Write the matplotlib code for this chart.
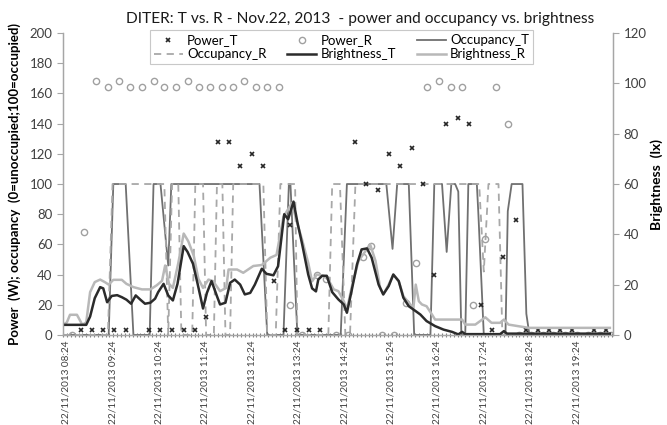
import matplotlib
matplotlib.use("Agg")
import matplotlib.pyplot as plt
from matplotlib.lines import Line2D
from matplotlib.ticker import FixedLocator, FuncFormatter, MultipleLocator

plt.rcParams['font.family'] = ['Lato', 'DejaVu Sans']

DAY = "22/11/2013"

# power draw (W), about every 15 min
power_t_time = ["08:43", "08:58", "09:12", "09:26", "09:42", "10:11", "10:25", "10:41", "10:56",
                "11:10", "11:25", "11:40", "11:54", "12:09", "12:24", "12:38", "12:53", "13:07",
                "13:13", "13:23", "13:38", "13:52", "14:37", "14:52", "15:07", "15:22", "15:36",
                "15:51", "16:06", "16:20", "16:35", "16:50", "17:05", "17:20", "17:34", "17:49",
                "18:05", "18:19", "18:34", "18:48", "19:03", "19:18", "19:47", "20:02"]
power_t = [3, 3, 3, 3, 3, 3, 3, 3, 3, 3, 12, 128, 128, 112, 120, 112, 36, 3, 73, 3, 3, 3,
           128, 100, 96, 120, 112, 124, 100, 40, 140, 144, 140, 19.5, 3, 51.6, 76,
           3, 3, 3, 3, 3, 3, 3]

power_r_time = ["08:32", "08:47", "09:03", "09:18", "09:33", "09:47", "10:02", "10:17", "10:31",
                "10:46", "11:01", "11:16", "11:30", "11:45", "12:00", "12:14", "12:29", "12:44",
                "12:59", "13:14", "13:29", "13:48", "14:00", "14:13", "14:28", "14:48", "14:58",
                "15:13", "15:28", "15:43", "15:56", "16:11", "16:26", "16:41", "16:56", "17:10",
                "17:25", "17:40", "17:55", "18:10", "18:25", "18:40", "18:54", "19:09", "19:24",
                "19:39", "19:54", "20:09"]
power_r = [0, 68, 168, 164, 168, 164, 164, 168, 164, 164, 168, 164, 164, 164, 164, 168, 164, 164,
           164, 19.5, 0, 40, 37, 0, 0, 51.6, 58.7, 0, 0, 21, 47.6, 164, 168, 164, 164, 19.5,
           63.5, 164, 140, 0, 0, 0, 0, 0, 0, 0, 0, 0]

# occupancy (0 = unoccupied, 100 = occupied)
occ_t_time = ["08:20", "09:19", "09:25", "09:41", "09:51", "10:12", "10:17", "10:26", "10:36",
              "10:40", "12:34", "12:44", "13:05", "13:12", "13:14", "13:23", "14:19", "14:27",
              "15:18", "15:26", "15:32", "15:47", "15:54", "16:15", "16:20", "16:30", "16:36",
              "16:42", "16:47", "16:51", "16:55", "17:00", "17:04", "17:15", "17:17", "17:24",
              "17:52", "17:55", "18:00", "18:14", "18:19", "18:23", "20:07"]
occ_t = [0, 0, 100, 100, 0, 0, 100, 100, 46, 100, 100, 0, 0, 100, 100, 0, 0, 100,
         100, 57, 100, 100, 0, 0, 100, 100, 55, 100, 100, 95, 0, 0, 100, 100, 80, 0,
         0, 82, 100, 100, 14, 0, 0]

occ_r_time = ["08:20", "09:18", "09:24", "10:31", "10:36", "10:41", "10:49", "10:53", "11:07",
              "11:11", "11:21", "11:25", "11:35", "11:39", "11:46", "11:50", "11:56", "12:00",
              "12:39", "12:44", "12:55", "13:01", "13:20", "13:23", "14:03", "14:08", "14:18",
              "14:25", "14:31", "14:38", "17:18", "17:24", "17:30", "17:43", "17:48", "20:07"]
occ_r = [0, 0, 100, 100, 0, 100, 100, 0, 0, 100, 100, 0, 0, 100, 100, 0, 0, 100,
         100, 0, 0, 100, 100, 0, 0, 100, 100, 0, 0, 100, 100, 42, 100, 100, 0, 0]

# brightness (lx)
bright_t_time = ["08:20", "08:50", "08:55", "09:01", "09:08", "09:12", "09:17", "09:23", "09:30",
                 "09:36", "09:42", "09:48", "09:54", "10:00", "10:06", "10:13", "10:19", "10:23",
                 "10:30", "10:36", "10:42", "10:48", "10:56", "11:01", "11:08", "11:14", "11:21",
                 "11:26", "11:32", "11:39", "11:43", "11:50", "11:56", "12:02", "12:09", "12:15",
                 "12:22", "12:28", "12:37", "12:43", "12:52", "12:58", "13:06", "13:11", "13:18",
                 "13:23", "13:29", "13:37", "13:42", "13:47", "13:50", "13:55", "14:01", "14:08",
                 "14:16", "14:23", "14:27", "14:33", "14:40", "14:46", "14:53", "14:59", "15:08",
                 "15:14", "15:21", "15:27", "15:34", "15:40", "15:47", "15:53", "16:02", "16:10",
                 "16:21", "16:32", "16:43", "16:51", "16:56", "17:00", "17:45", "17:50", "17:54",
                 "20:07"]
bright_t = [4.0, 4.0, 7.3, 14.6, 19.0, 18.5, 13.0, 15.5, 15.8,
            15.0, 14.0, 12.4, 15.7, 14.0, 12.4, 12.8, 14.4, 17.0,
            20.3, 15.7, 13.7, 20.3, 35.3, 33.0, 28.3, 20.3, 10.5,
            16.7, 21.4, 15.4, 12.1, 12.8, 20.7, 22.0, 20.0, 16.1,
            16.7, 20.0, 26.3, 24.3, 23.7, 27.3, 48.0, 46.0, 53.0,
            44.8, 36.3, 24.0, 18.5, 17.3, 22.0, 23.5, 23.5, 17.0,
            14.1, 12.1, 8.8, 17.4, 28.0, 34.0, 34.4, 30.7, 20.0,
            16.1, 19.4, 24.0, 21.4, 14.8, 11.4, 10.1, 8.1, 5.5,
            3.5, 2.1, 1.2, 0.2, 1.2, 0.3, 0.3, 1.5, 0.5,
            0.5]

bright_r_time = ["08:20", "08:25", "08:29", "08:38", "08:45", "08:50", "08:55", "09:01", "09:08",
                 "09:14", "09:19", "09:25", "09:36", "09:42", "09:51", "10:02", "10:13", "10:21",
                 "10:28", "10:32", "10:37", "10:42", "10:49", "10:56", "11:02", "11:09", "11:15",
                 "11:21", "11:28", "11:34", "11:43", "11:51", "11:54", "12:05", "12:13", "12:26",
                 "12:37", "12:48", "12:56", "13:05", "13:16", "13:22", "13:29", "13:37", "13:42",
                 "13:48", "13:57", "14:03", "14:10", "14:16", "14:23", "14:27", "14:33", "14:42",
                 "14:48", "14:57", "15:04", "15:10", "15:14", "15:21", "15:27", "15:34", "15:40",
                 "15:47", "15:53", "15:56", "16:00", "16:04", "16:10", "16:17", "16:21", "16:56",
                 "17:00", "17:13", "17:26", "17:34", "17:45", "17:50", "17:56", "18:22", "20:07"]
bright_r = [4.0, 5.0, 8.0, 8.0, 4.0, 5.0, 17.0, 21.0, 22.0,
            21.0, 20.0, 21.9, 21.9, 20.3, 19.0, 18.1, 18.1, 19.7,
            21.5, 27.6, 20.3, 18.7, 28.5, 40.3, 37.2, 31.5, 22.3,
            18.7, 22.0, 21.4, 17.4, 18.7, 26.0, 26.0, 24.7, 27.4,
            27.8, 30.7, 31.8, 47.0, 52.5, 45.2, 37.9, 28.6, 21.3,
            24.0, 23.5, 21.9, 18.1, 17.4, 13.4, 10.1, 18.7, 29.4,
            32.0, 36.0, 29.4, 18.7, 16.1, 20.0, 24.0, 21.4, 15.4,
            12.8, 10.8, 20.0, 13.4, 12.1, 11.4, 8.1, 6.1, 6.1,
            4.1, 4.1, 7.0, 4.8, 4.8, 6.1, 4.1, 2.8, 2.8]

tick_times = ["08:24", "09:24", "10:24", "11:24", "12:24", "13:24",
              "14:24", "15:24", "16:24", "17:24", "18:24", "19:24"]


def minutes(hhmm):
    h, m = hhmm.split(":")
    return int(h) * 60 + int(m)


def to_min(times):
    return [minutes(t) for t in times]


def fmt_time(x, pos):
    x = int(round(x))
    return f"{DAY} {x // 60:02d}:{x % 60:02d}"


GRID = '#a6a6a6'
TXT = '#404040'

fig = plt.figure(figsize=(6.67, 4.25), dpi=100)
ax = fig.add_axes([0.0945, 0.212, 0.8245, 0.71])
ax2 = ax.twinx()

ax.plot(to_min(occ_t_time), occ_t, color='#707070', lw=1.3, zorder=2)
ax.plot(to_min(occ_r_time), occ_r, color='#a8a8a8', lw=1.3, ls=(0, (4, 3)), zorder=2)
ax.plot(to_min(power_t_time), power_t, ls='none', marker='x', ms=3.5, mew=1.2,
        color='#262626', zorder=4)
ax.plot(to_min(power_r_time), power_r, ls='none', marker='o', ms=4.5, mew=1.0,
        mfc='none', mec='#a0a0a0', zorder=4)

ax2.plot(to_min(bright_r_time), bright_r, color='#b8b8b8', lw=1.8)
ax2.plot(to_min(bright_t_time), bright_t, color='#2b2b2b', lw=1.8)

ax.set_xlim(500, 1211)
ax.set_ylim(0, 200)
ax2.set_ylim(0, 120)
ax.yaxis.set_major_locator(MultipleLocator(20))
ax2.yaxis.set_major_locator(MultipleLocator(20))

ax.xaxis.set_major_locator(FixedLocator(to_min(tick_times)))
ax.xaxis.set_major_formatter(FuncFormatter(fmt_time))
ax.xaxis.set_minor_locator(MultipleLocator(5))
ax.tick_params(axis='x', which='major', labelrotation=90, labelsize=7.2, length=0,
               labelcolor=TXT, pad=4)
ax.tick_params(axis='x', which='minor', length=3, direction='inout', color='#7f7f7f', width=0.8)

for a in (ax, ax2):
    a.tick_params(axis='y', labelsize=9.5, labelcolor=TXT, color=GRID, length=4, width=0.8)
    a.spines['top'].set_visible(False)
    for side in ('left', 'right', 'bottom'):
        a.spines[side].set_color(GRID)
        a.spines[side].set_linewidth(0.9)

ax.set_ylabel("Power  (W); occupancy  (0=unoccupied;100=occupied)",
              fontsize=9.5, fontweight='bold', labelpad=6)
ax2.set_ylabel("Brightness  (lx)", fontsize=10, fontweight='bold', labelpad=3)

fig.text(0.54, 0.955, "DITER: T vs. R - Nov.22, 2013  - power and occupancy vs. brightness",
         ha='center', va='center', fontsize=11.2, color='#1a1a1a')

# legend filled column by column, so order the handles to read row-wise
handles = [
    Line2D([], [], ls='none', marker='x', ms=3.5, mew=1.2, color='#262626'),
    Line2D([], [], color='#a8a8a8', lw=1.3, ls=(0, (4, 3))),
    Line2D([], [], ls='none', marker='o', ms=4.5, mfc='none', mec='#a0a0a0'),
    Line2D([], [], color='#2b2b2b', lw=1.8),
    Line2D([], [], color='#707070', lw=1.3),
    Line2D([], [], color='#b8b8b8', lw=1.8),
]
labels = ["Power_T", "Occupancy_R", "Power_R", "Brightness_T", "Occupancy_T", "Brightness_R"]
leg = ax2.legend(handles, labels, ncol=3, loc='center', bbox_to_anchor=(0.512, 0.889),
                 bbox_transform=fig.transFigure, fontsize=9.5, frameon=True, fancybox=False,
                 edgecolor='#c8c8c8', framealpha=1, handlelength=2.2, handletextpad=0.3,
                 columnspacing=1.6, borderpad=0.3, labelspacing=0.15)
leg.get_frame().set_linewidth(0.8)

fig.savefig("out.png", dpi=100)
